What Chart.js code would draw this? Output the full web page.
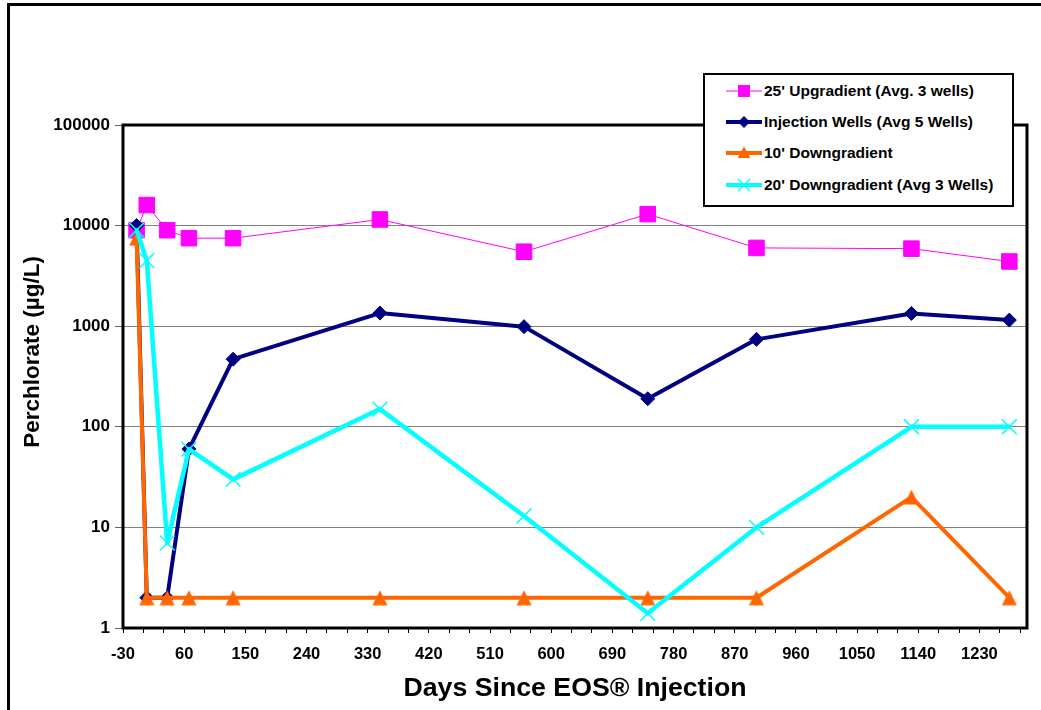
<!DOCTYPE html>
<html><head><meta charset="utf-8">
<script src="https://cdn.jsdelivr.net/npm/chart.js@4/dist/chart.umd.min.js"></script>
<style>
html,body{margin:0;padding:0;background:#fff;}
#wrap{position:relative;width:1041px;height:710px;overflow:hidden;font-family:"Liberation Sans",Arial,sans-serif;}
#frame{position:absolute;left:7px;top:3px;width:1100px;height:800px;border:3px solid #000;box-sizing:border-box;}
canvas{position:absolute;left:0;top:0;}
#legend{position:absolute;left:703px;top:73px;width:307px;height:130px;border:2px solid #000;background:#fff;}
.row{position:absolute;left:0;width:307px;height:20px;}
.row svg{position:absolute;left:21px;top:0;}
.row span{position:absolute;left:59px;top:1px;line-height:18px;font-size:15.5px;font-weight:bold;color:#000;white-space:nowrap;}
</style></head>
<body><div id="wrap"><div id="frame"></div><canvas id="c" width="1041" height="710"></canvas><div id="legend"></div></div>
<script>
// ---- data ----
const days = [-10, 5, 35, 67, 132, 348, 560, 742, 902, 1130, 1274];
const upgradient = [9000, 16000, 9000, 7500, 7500, 11500, 5500, 13000, 6000, 5900, 4400];
const injection = [10000, 2, 2, 60, 470, 1350, 990, 190, 740, 1340, 1150];
const down10 = [7500, 2, 2, 2, 2, 2, 2, 2, 2, 20, 2];
const down20 = [9000, 4500, 7, 60, 30, 150, 13, 1.4, 10, 100, 100];
const seriesNames = ["25' Upgradient (Avg. 3 wells)", "Injection Wells (Avg 5 Wells)", "10' Downgradient", "20' Downgradient (Avg 3 Wells)"];
const xTickLabels = [-30, 60, 150, 240, 330, 420, 510, 600, 690, 780, 870, 960, 1050, 1140, 1230];
const yTickValues = [1, 10, 100, 1000, 10000, 100000];
const xTitle = 'Days Since EOS® Injection';
const yTitle = 'Perchlorate (µg/L)';
const xMinorStep = 30, xMin = -30, xMax = 1300, xLastTick = 1290;

const colors = ['#FF00FF', '#000080', '#FF6600', '#00FFFF'];

// minor tick positions (axis decoration, every 30 days)
const xMinorTicks = [];
for (let v = xMin; v <= xLastTick; v += xMinorStep) xMinorTicks.push(v);

// centered triangle marker (Excel style)
function triCanvas(size, color) {
  const c = document.createElement('canvas');
  c.width = size; c.height = size;
  const g = c.getContext('2d');
  g.fillStyle = color;
  g.beginPath();
  g.moveTo(size / 2, 0.5);
  g.lineTo(size - 0.5, size - 0.5);
  g.lineTo(0.5, size - 0.5);
  g.closePath();
  g.fill();
  return c;
}

function pts(vals) { return days.map((d, i) => ({x: d, y: vals[i]})); }

const plotBorder = {
  id: 'plotBorder',
  beforeDatasetsDraw(chart) {
    const {ctx, chartArea: a} = chart;
    ctx.save();
    ctx.strokeStyle = '#000';
    ctx.lineWidth = 3;
    ctx.strokeRect(a.left, a.top, a.right - a.left, a.bottom - a.top);
    ctx.restore();
  },
  afterDraw(chart) {
    const ctx = chart.ctx;
    ctx.save();
    ctx.translate(33, 352);
    ctx.rotate(-Math.PI / 2);
    ctx.font = 'bold 22.5px "Liberation Sans", Arial, sans-serif';
    ctx.fillStyle = '#000';
    ctx.textAlign = 'center';
    ctx.textBaseline = 'middle';
    ctx.fillText(yTitle, 0, 0);
    ctx.restore();
  }
};

Chart.defaults.font.family = '"Liberation Sans", Arial, sans-serif';
Chart.defaults.font.weight = 'bold';
Chart.defaults.color = '#000';

new Chart(document.getElementById('c'), {
  type: 'line',
  data: {
    datasets: [
      {label: seriesNames[0], data: pts(upgradient), borderColor: colors[0], backgroundColor: colors[0],
       borderWidth: 1, pointStyle: 'rect', pointRadius: 11, pointHoverRadius: 11, pointBorderWidth: 1, order: 4},
      {label: seriesNames[1], data: pts(injection), borderColor: colors[1], backgroundColor: colors[1],
       borderWidth: 4, pointStyle: 'rectRot', pointRadius: 7, pointHoverRadius: 7, pointBorderWidth: 1, order: 3},
      {label: seriesNames[2], data: pts(down10), borderColor: colors[2], backgroundColor: colors[2],
       borderWidth: 4, pointStyle: triCanvas(16, colors[2]), pointRadius: 8, pointHoverRadius: 8, order: 2},
      {label: seriesNames[3], data: pts(down20), borderColor: colors[3], backgroundColor: colors[3],
       borderWidth: 4.5, pointStyle: 'crossRot', pointRadius: 10.5, pointHoverRadius: 10.5, pointBorderWidth: 1.5, order: 1}
    ]
  },
  options: {
    responsive: false,
    animation: false,
    devicePixelRatio: 1,
    layout: {padding: {left: 0, top: 125, right: 14, bottom: 0}},
    elements: {line: {tension: 0, borderJoinStyle: 'round', borderCapStyle: 'round'}},
    plugins: {legend: {display: false}, tooltip: {enabled: false}},
    scales: {
      x: {
        type: 'linear', min: xMin, max: xMax,
        afterBuildTicks(s) { s.ticks = xMinorTicks.map(v => ({value: v})); },
        afterFit(s) { s.height = 82; },
        grid: {drawOnChartArea: false, drawTicks: true, tickLength: 5, tickColor: '#000', lineWidth: 1},
        border: {display: false},
        ticks: {autoSkip: false, maxRotation: 0, minRotation: 0, padding: 12, color: '#000',
          font: {size: 16.5, weight: 'bold'},
          callback: (v) => xTickLabels.includes(v) ? String(v) : ''},
        title: {display: true, text: xTitle, color: '#000',
          font: {size: 26.7, weight: 'bold'}, padding: {top: 0, bottom: 5}}
      },
      y: {
        type: 'logarithmic', min: 1, max: 100000,
        afterBuildTicks(s) { s.ticks = yTickValues.map(v => ({value: v})); },
        afterFit(s) { s.width = 123; },
        grid: {color: '#808080', lineWidth: 1, tickLength: 8, tickColor: '#666'},
        border: {display: false},
        ticks: {autoSkip: false, padding: 5, color: '#000', font: {size: 17, weight: 'bold'},
          callback: (v) => String(v)},
        title: {display: false}
      }
    }
  },
  plugins: [plotBorder]
});

// ---- legend (HTML) ----
const legendRows = [15.7, 46.7, 78.3, 110];
const markerSvg = [
  (c) => `<line x1="0" y1="10" x2="36" y2="10" stroke="${c}" stroke-width="1"/><rect x="12" y="4" width="12" height="12" fill="${c}"/>`,
  (c) => `<line x1="0" y1="10" x2="36" y2="10" stroke="${c}" stroke-width="4" stroke-linecap="round"/><polygon points="18,4 24,10 18,16 12,10" fill="${c}"/>`,
  (c) => `<line x1="0" y1="10" x2="36" y2="10" stroke="${c}" stroke-width="4" stroke-linecap="round"/><polygon points="18,3.5 24.5,15 11.5,15" fill="${c}"/>`,
  (c) => `<line x1="0" y1="10" x2="36" y2="10" stroke="${c}" stroke-width="4" stroke-linecap="round"/><line x1="12" y1="4" x2="24" y2="16" stroke="${c}" stroke-width="1.5"/><line x1="24" y1="4" x2="12" y2="16" stroke="${c}" stroke-width="1.5"/>`
];
const lg = document.getElementById('legend');
seriesNames.forEach((name, i) => {
  const row = document.createElement('div');
  row.className = 'row';
  row.style.top = (legendRows[i] - 10) + 'px';
  row.innerHTML = `<svg width="36" height="20" viewBox="0 0 36 20">${markerSvg[i](colors[i])}</svg><span>${name}</span>`;
  lg.appendChild(row);
});
</script>
</body></html>
